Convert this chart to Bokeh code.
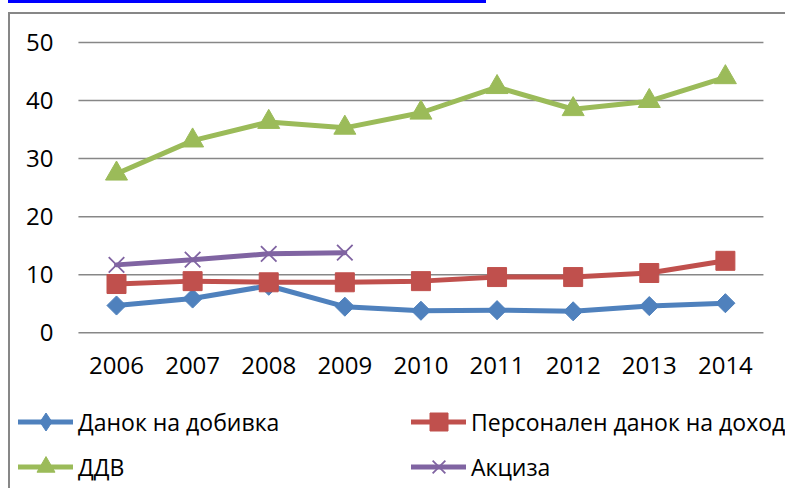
import math
from bokeh.plotting import figure
from bokeh.models import Range1d, FixedTicker, Legend, LegendItem
from bokeh.embed import file_html
from bokeh.resources import INLINE

# ---- data ----
years = [2006, 2007, 2008, 2009, 2010, 2011, 2012, 2013, 2014]
profit_tax = [4.7, 5.9, 8.1, 4.5, 3.8, 3.9, 3.7, 4.6, 5.1]          # Данок на добивка
personal_income_tax = [8.4, 8.9, 8.7, 8.7, 8.9, 9.6, 9.6, 10.3, 12.4]  # Персонален данок на доход
vat = [27.4, 33.1, 36.3, 35.3, 37.9, 42.3, 38.5, 39.9, 44.0]           # ДДВ
excise_years = [2006, 2007, 2008, 2009]
excise = [11.7, 12.6, 13.6, 13.8]                                       # Акциза
y_ticks = [0, 10, 20, 30, 40, 50]
series_labels = ["Данок на добивка", "Персонален данок на доход", "ДДВ", "Акциза"]

FONT = "Open Sans"
BLUE, RED, GREEN, PURPLE = "#4F81BD", "#C0504D", "#9BBB59", "#8064A2"
GRID = "#878787"

# frame geometry (pixels): the frame spans the plot and the legend area
FW, FH = 767, 474
PX_PER_YEAR = 685 / 9
PX_PER_UNIT = 290.3 / 50
ZERO_FROM_TOP = 318.3
x_start = years[0] - 98 / PX_PER_YEAR
y_end = ZERO_FROM_TOP / PX_PER_UNIT
y_start = y_end - FH / PX_PER_UNIT

p = figure(
    x_range=Range1d(x_start, x_start + FW / PX_PER_YEAR),
    y_range=Range1d(y_start, y_end),
    frame_width=FW, frame_height=FH,
    min_border_left=8, min_border_right=0, min_border_top=0, min_border_bottom=0,
    output_backend="svg", toolbar_location=None,
    styles={
        "border-left": "2px solid #878787",
        "border-top": "2px solid #878787",
        "position": "relative", "left": "8px", "top": "12px",
        "box-shadow": "0px -9px 0px 0px #ffffff, -149.5px -161.5px 0px -149.5px #0000ff",
    },
)
p.outline_line_color = None
p.background_fill_color = "white"
p.border_fill_color = "white"
p.xgrid.visible = False
p.ygrid.visible = False

# horizontal gridlines spanning the category area
x_lo = years[0] - 0.5
x_hi = years[-1] + 0.5
p.segment(x0=[x_lo] * len(y_ticks), x1=[x_hi] * len(y_ticks), y0=y_ticks, y1=y_ticks,
          line_color=GRID, line_width=1.5)

p.yaxis.fixed_location = x_lo
p.yaxis.ticker = FixedTicker(ticks=y_ticks)
p.yaxis.axis_line_color = None
p.yaxis.major_tick_line_color = None
p.yaxis.minor_tick_line_color = None
p.yaxis.major_tick_in = 0
p.yaxis.major_tick_out = 0
p.yaxis.major_label_standoff = 25
p.yaxis.major_label_text_font = FONT
p.yaxis.major_label_text_font_size = "24px"
p.yaxis.major_label_text_color = "black"

p.xaxis.fixed_location = 0
p.xaxis.ticker = FixedTicker(ticks=years)
p.xaxis.axis_line_color = None
p.xaxis.major_tick_line_color = None
p.xaxis.minor_tick_line_color = None
p.xaxis.major_tick_in = 0
p.xaxis.major_tick_out = 0
p.xaxis.major_label_standoff = 24
p.xaxis.major_label_text_font = FONT
p.xaxis.major_label_text_font_size = "24px"
p.xaxis.major_label_text_color = "black"

LW = 5
l1 = p.line(years, profit_tax, line_color=BLUE, line_width=LW, line_join="round", line_cap="round")
# diamond glyph (used by the legend), hidden beneath the rotated squares
d1 = p.scatter(years, profit_tax, marker="diamond", size=14, fill_color=BLUE, line_color=BLUE)
m1 = p.scatter(years, profit_tax, marker="square", angle=math.pi / 4, size=13.5,
               fill_color=BLUE, line_color=BLUE)
l2 = p.line(years, personal_income_tax, line_color=RED, line_width=LW, line_join="round", line_cap="round")
m2 = p.scatter(years, personal_income_tax, marker="square", size=19, fill_color=RED, line_color=RED)
l3 = p.line(years, vat, line_color=GREEN, line_width=LW, line_join="round", line_cap="round")
m3 = p.scatter(years, vat, marker="triangle", size=22, fill_color=GREEN, line_color=GREEN)
l4 = p.line(excise_years, excise, line_color=PURPLE, line_width=LW, line_join="round", line_cap="round")
m4 = p.scatter(excise_years, excise, marker="x", size=22, line_color=PURPLE, line_width=1.8)

legend = Legend(
    items=[LegendItem(label=series_labels[0], renderers=[l1, d1]),
           LegendItem(label=series_labels[2], renderers=[l3, m3]),
           LegendItem(label=series_labels[1], renderers=[l2, m2]),
           LegendItem(label=series_labels[3], renderers=[l4, m4])],
    location=(0, -1), orientation="vertical", ncols=2,
    border_line_color=None, background_fill_alpha=0,
    padding=0, margin=0, glyph_width=55, glyph_height=45,
    label_height=45, label_width=333, spacing=-7, label_standoff=5,
    label_text_font=FONT, label_text_font_size="23px", label_text_color="black",
)
p.add_layout(legend)

open("out.html", "w").write(file_html(p, INLINE))
